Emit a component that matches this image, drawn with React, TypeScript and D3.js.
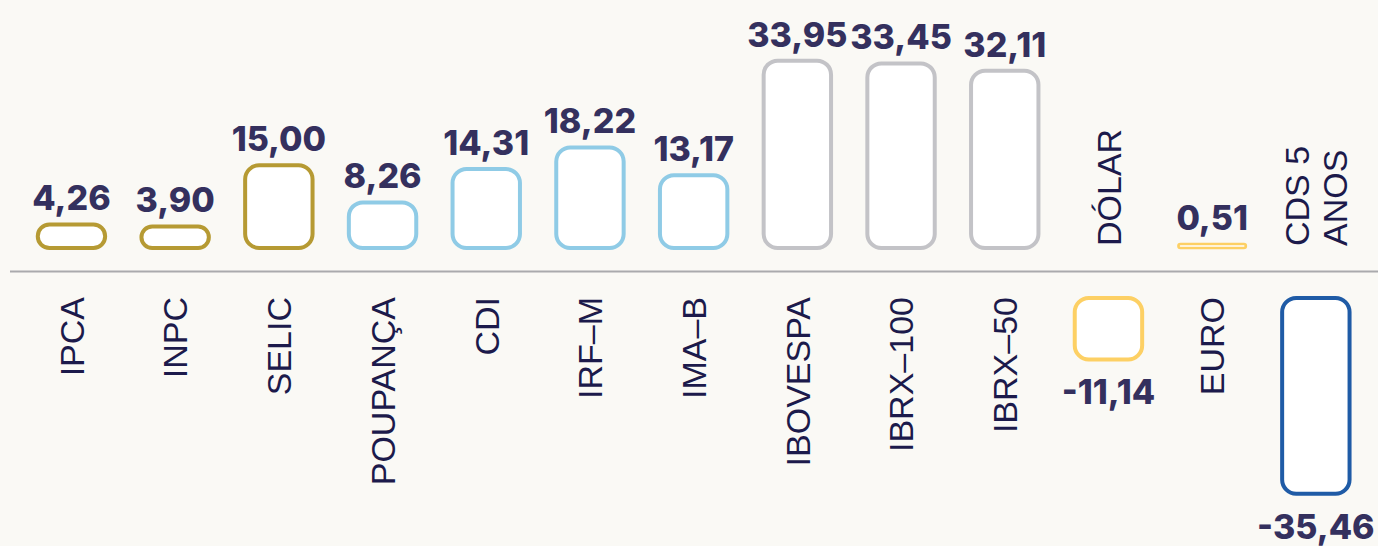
import React from 'react';
import * as d3 from 'd3';

// rentabilidade acumulada (%)
const categories = ['IPCA', 'INPC', 'SELIC', 'POUPANÇA', 'CDI', 'IRF–M', 'IMA–B', 'IBOVESPA', 'IBRX–100', 'IBRX–50', 'DÓLAR', 'EURO', 'CDS 5 ANOS'];
const values = [4.26, 3.90, 15.00, 8.26, 14.31, 18.22, 13.17, 33.95, 33.45, 32.11, -11.14, 0.51, -35.46];
const groups = ['inflacao', 'inflacao', 'inflacao', 'rendaFixa', 'rendaFixa', 'rendaFixa', 'rendaFixa', 'bolsa', 'bolsa', 'bolsa', 'moeda', 'moeda', 'risco'];

const groupColors: Record<string, string> = {
  inflacao: '#b69a33',
  rendaFixa: '#8fcbe6',
  bolsa: '#c3c3c7',
  moeda: '#fdd064',
  risco: '#1f5ba6',
};

const width = 1378, height = 546;
const baseY = 271.5;
const zeroPos = 248, zeroNeg = 298;

const fmt = d3.formatLocale({ decimal: ',', thousands: '.', grouping: [3], currency: ['', ''], minus: '-' }).format('.2f');

const splitLabel = (s: string) => {
  if (s.length > 8 && s.includes(' ')) {
    const i = s.lastIndexOf(' ');
    return [s.slice(0, i), s.slice(i + 1)];
  }
  return [s];
};

export default function App() {
  const x = d3.scaleBand()
    .domain(categories)
    .range([19.6, 1367.7])
    .paddingInner(0.35)
    .paddingOuter(0.175);

  const hScale = d3.scaleLinear()
    .domain([0, d3.max(values, v => Math.abs(v))])
    .range([0, 195.7]);

  const bw = x.bandwidth();

  return (
    <svg width={width} height={height} style={{ position: 'fixed', left: 0, top: 0, background: '#faf9f5' }}>
      <rect width={width} height={height} fill="#faf9f5" />
      <line x1={10} x2={width} y1={baseY} y2={baseY} stroke="#aaaaad" strokeWidth={2.2} />
      {categories.map((c, i) => {
        const v = values[i];
        const raw = hScale(Math.abs(v));
        // very small bars: keep a hollow pill visible
        const thin = raw < 10;
        const h = Math.max(raw, 4);
        const x0 = x(c);
        const cx = x0 + bw / 2;
        const pos = v >= 0;
        const y0 = pos ? zeroPos - h : zeroNeg;
        const rx = Math.min(14, h / 2);
        const lines = splitLabel(c);
        return (
          <g key={c}>
            <rect x={x0} y={y0} width={bw} height={h} rx={rx} ry={rx}
              fill="#ffffff" stroke={groupColors[groups[i]]} strokeWidth={thin ? 2.6 : 4} />
            <text x={cx} y={pos ? y0 - 14 : y0 + h + 45} textAnchor="middle"
              fontFamily="Inter, 'DejaVu Sans', sans-serif" fontWeight={800} fontSize={34} fill="#34305e">
              {fmt(v)}
            </text>
            <g transform={`translate(${cx},${pos ? 297 : 246}) rotate(-90)`}>
              {lines.map((ln, j) => (
                <text key={ln} x={0} y={(j - (lines.length - 1) / 2) * 38} dy="0.36em"
                  textAnchor={pos ? 'end' : 'start'}
                  fontFamily="'Liberation Sans', Arial, sans-serif" fontSize={34} fill="#1c1a4b">
                  {ln}
                </text>
              ))}
            </g>
          </g>
        );
      })}
    </svg>
  );
}
